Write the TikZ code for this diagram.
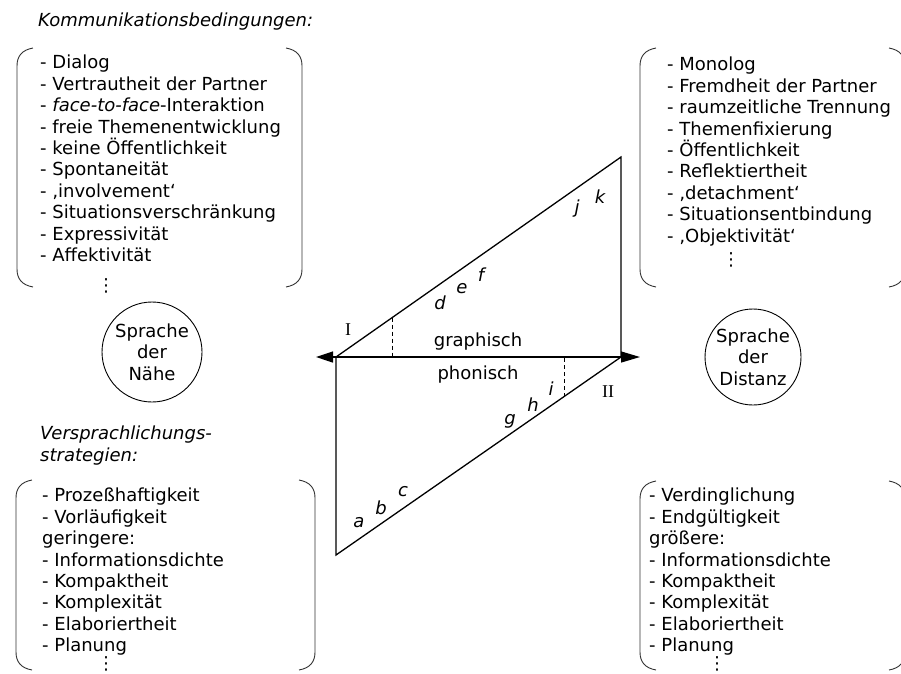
\documentclass[tikz,border=0pt]{standalone}
\usepackage{fontspec}
\setmainfont{DejaVu Sans}
\newfontfamily\romfont{Liberation Serif}
\usetikzlibrary{arrows.meta,calc}

\begin{document}
\begin{tikzpicture}[x=1pt,y=-1pt,
  every node/.style={inner sep=0,font=\fontsize{18}{21.4}\selectfont},
  liste/.style={align=left,anchor=north west},
  kreis/.style={draw,circle,minimum size=100pt,align=center,line width=0.9pt},
  klammer/.style={line width=0.9pt,black!80},
  linie/.style={line width=1.3pt},
  marke/.style={font=\fontsize{18}{21.4}\selectfont\itshape},
  roemisch/.style={font=\fontsize{18}{20}\selectfont\romfont}]

\useasboundingbox (0,0) rectangle (901,673);

% Ecken des Parallelogramms
\coordinate (L) at (336,357);
\coordinate (T) at (621,157);
\coordinate (R) at (621,357);
\coordinate (B) at (336,555);
\coordinate (pl) at (316,357);
\coordinate (pr) at (640,357);

\draw[linie] (L) -- (T) -- (R) -- (B) -- cycle;
\draw[linie,{Triangle[length=17pt,width=11pt]}-{Triangle[length=19pt,width=11pt]}] (pl) -- (pr);

% gestrichelte Trennlinien
\coordinate (d1) at ($(L)!0.1965!(T)$);
\coordinate (d2) at ($(B)!0.8!(R)$);
\draw[dash pattern=on 4pt off 3pt,line width=1pt] (d1) -- (d1 |- L);
\draw[dash pattern=on 4pt off 3pt,line width=1pt] (d2) -- (d2 |- L);

% Klammern
\foreach \xa/\xb/\ya/\yb in {17/302/48/287, 640/905/48/287, 16/315/480/670, 640/905/481/670}{
  \draw[klammer] (\xa+16,\ya) .. controls (\xa+5,\ya+2) and (\xa,\ya+8) .. (\xa,\ya+18)
    -- (\xa,\yb-18) .. controls (\xa,\yb-8) and (\xa+5,\yb-2) .. (\xa+16,\yb);
  \draw[klammer] (\xb-16,\ya) .. controls (\xb-5,\ya+2) and (\xb,\ya+8) .. (\xb,\ya+18)
    -- (\xb,\yb-18) .. controls (\xb,\yb-8) and (\xb-5,\yb-2) .. (\xb-16,\yb);
}

\node[anchor=base west,marke] (komm) at (38,26) {Kommunikationsbedingungen:};

\node[liste] (naeheoben) at (40,55) {- Dialog\\- Vertrautheit der Partner\\- \textit{face-to-face}-Interaktion\\- freie Themenentwicklung\\- keine Öffentlichkeit\\- Spontaneität\\- ‚involvement‘\\- Situationsverschränkung\\- Expressivität\\- Affektivität\\[8.5pt]\hspace*{57pt}⋮};

\node[liste] (distanzoben) at (667,57) {- Monolog\\- Fremdheit der Partner\\- raumzeitliche Trennung\\- Themenfixierung\\- Öffentlichkeit\\- Reflektiertheit\\- ‚detachment‘\\- Situationsentbindung\\- ‚Objektivität‘\\[2pt]\hspace*{55pt}⋮};

\node[kreis] (naehe) at (152,352) {Sprache\\der\\Nähe};
\node[kreis,minimum size=96pt] (distanz) at (753,357) {Sprache\\der\\Distanz};

\node[liste,marke] (versp) at (40,426) {Versprachlichungs-\\strategien:};

\node[liste] (naeheunten) at (42,488) {- Prozeßhaftigkeit\\- Vorläufigkeit\\geringere:\\- Informationsdichte\\- Kompaktheit\\- Komplexität\\- Elaboriertheit\\- Planung\\[-3.7pt]\hspace*{55pt}⋮};

\node[liste] (distanzunten) at (649,488) {- Verdinglichung\\- Endgültigkeit\\größere:\\- Informationsdichte\\- Kompaktheit\\- Komplexität\\- Elaboriertheit\\- Planung\\[-3.7pt]\hspace*{59pt}⋮};

% Beschriftungen
\node (graph) at (478,342) {graphisch};
\node (phon) at (478,375) {phonisch};
\node[roemisch] (eins) at (348,330) {I};
\node[roemisch] (zwei) at (608,392) {II};

\node[marke] (a) at (359,523) {a};
\node[marke] (b) at (381,508) {b};
\node[marke] (c) at (403,492) {c};
\node[marke] (d) at (440,303) {d};
\node[marke] (e) at (462,289) {e};
\node[marke] (f) at (481,275) {f};
\node[marke] (g) at (510,421) {g};
\node[marke] (h) at (533,405) {h};
\node[marke] (i) at (551,389) {i};
\node[marke] (j) at (577,209) {j};
\node[marke] (k) at (600,197) {k};

\end{tikzpicture}
\end{document}
